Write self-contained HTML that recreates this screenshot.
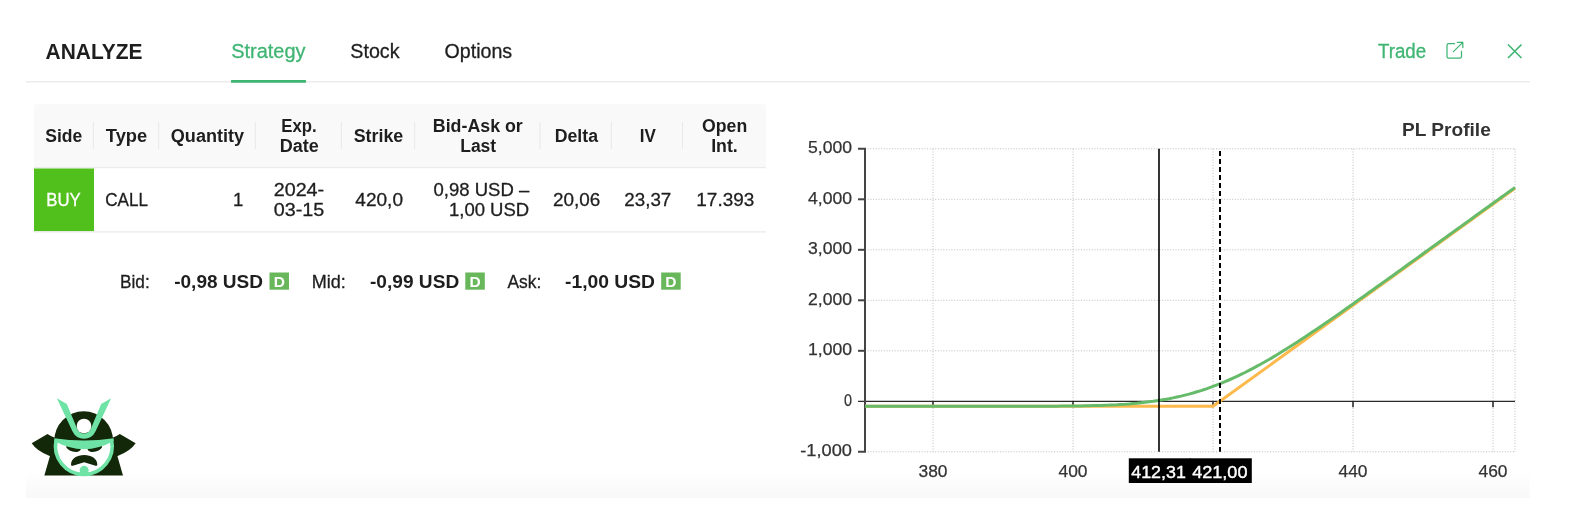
<!DOCTYPE html>
<html><head><meta charset="utf-8"><title>Analyze</title>
<style>
html,body{margin:0;padding:0;background:#fff;width:1578px;height:522px;overflow:hidden;}
svg{display:block;will-change:transform;font-family:"Liberation Sans",sans-serif;}
</style></head><body>
<svg width="1578" height="522" viewBox="0 0 1578 522">
<defs><linearGradient id="bg" x1="0" y1="0" x2="0" y2="1"><stop offset="0" stop-color="#fff"/><stop offset="1" stop-color="#f8f8f8"/></linearGradient></defs>
<rect x="26" y="472.5" width="1504" height="25.5" fill="url(#bg)"/>
<text x="45.5" y="58.7" font-size="22.8" font-weight="bold" fill="#1e1e1e" textLength="97" lengthAdjust="spacingAndGlyphs">ANALYZE</text>
<text x="231.2" y="58.3" font-size="20.5" fill="#3fb573" stroke="#3fb573" stroke-width="0.3" textLength="74.3" lengthAdjust="spacingAndGlyphs">Strategy</text>
<text x="350.3" y="58.3" font-size="20.5" fill="#1e1e1e" stroke="#1e1e1e" stroke-width="0.3" textLength="49.2" lengthAdjust="spacingAndGlyphs">Stock</text>
<text x="444.5" y="58.3" font-size="20.5" fill="#1e1e1e" stroke="#1e1e1e" stroke-width="0.3" textLength="67.7" lengthAdjust="spacingAndGlyphs">Options</text>
<text x="1378" y="57.8" font-size="20" fill="#3fb573" stroke="#3fb573" stroke-width="0.3" textLength="48.2" lengthAdjust="spacingAndGlyphs">Trade</text>
<rect x="26" y="81" width="1504" height="1.5" fill="#ececec"/>
<rect x="231" y="80" width="75" height="2.8" rx="0.6" fill="#3fb573"/>
<g fill="none" stroke="#3fb573" stroke-width="1.25" stroke-linecap="round" stroke-linejoin="round"><path d="M1454.5 43.7 H1448.7 Q1447 43.7 1447 45.4 V56.5 Q1447 58.2 1448.7 58.2 H1459.8 Q1461.5 58.2 1461.5 56.5 V51.3"/><path d="M1453.4 51.6 L1462.8 42.4 M1457.4 42.4 H1462.8 V47.6"/></g>
<path d="M1508 44.5 L1521.5 58 M1521.5 44.5 L1508 58" stroke="#3fb573" stroke-width="1.6" fill="none"/>
<path d="M34 168 V108 Q34 104 38 104 H762 Q766 104 766 108 V168 Z" fill="#f9f9f9"/>
<rect x="34" y="167" width="732" height="1.2" fill="#ebebeb"/>
<rect x="92.8" y="122" width="1" height="27" fill="#e8e8e8"/>
<rect x="158.2" y="122" width="1" height="27" fill="#e8e8e8"/>
<rect x="254.8" y="122" width="1" height="27" fill="#e8e8e8"/>
<rect x="340.8" y="122" width="1" height="27" fill="#e8e8e8"/>
<rect x="414.2" y="122" width="1" height="27" fill="#e8e8e8"/>
<rect x="539.5" y="122" width="1" height="27" fill="#e8e8e8"/>
<rect x="610.8" y="122" width="1" height="27" fill="#e8e8e8"/>
<rect x="682.0" y="122" width="1" height="27" fill="#e8e8e8"/>
<text x="45.3" y="142" font-size="18" font-weight="bold" fill="#1e1e1e" textLength="37" lengthAdjust="spacingAndGlyphs">Side</text>
<text x="105.8" y="142" font-size="18" font-weight="bold" fill="#1e1e1e" textLength="41.4" lengthAdjust="spacingAndGlyphs">Type</text>
<text x="170.8" y="142" font-size="18" font-weight="bold" fill="#1e1e1e" textLength="73.4" lengthAdjust="spacingAndGlyphs">Quantity</text>
<text x="281.3" y="131.7" font-size="18" font-weight="bold" fill="#1e1e1e" textLength="35.4" lengthAdjust="spacingAndGlyphs">Exp.</text>
<text x="279.7" y="152" font-size="18" font-weight="bold" fill="#1e1e1e" textLength="39" lengthAdjust="spacingAndGlyphs">Date</text>
<text x="353.7" y="142" font-size="18" font-weight="bold" fill="#1e1e1e" textLength="49.6" lengthAdjust="spacingAndGlyphs">Strike</text>
<text x="432.8" y="131.7" font-size="18" font-weight="bold" fill="#1e1e1e" textLength="90" lengthAdjust="spacingAndGlyphs">Bid-Ask or</text>
<text x="460.2" y="152" font-size="18" font-weight="bold" fill="#1e1e1e" textLength="36" lengthAdjust="spacingAndGlyphs">Last</text>
<text x="554.7" y="142" font-size="18" font-weight="bold" fill="#1e1e1e" textLength="43.3" lengthAdjust="spacingAndGlyphs">Delta</text>
<text x="639.7" y="142" font-size="18" font-weight="bold" fill="#1e1e1e" textLength="16.1" lengthAdjust="spacingAndGlyphs">IV</text>
<text x="702" y="131.7" font-size="18" font-weight="bold" fill="#1e1e1e" textLength="45.2" lengthAdjust="spacingAndGlyphs">Open</text>
<text x="711.2" y="152" font-size="18" font-weight="bold" fill="#1e1e1e" textLength="26.6" lengthAdjust="spacingAndGlyphs">Int.</text>
<rect x="34" y="168.5" width="60" height="62.7" fill="#52c01c"/>
<rect x="34" y="231.3" width="732" height="1.2" fill="#e9e9e9"/>
<text x="46.3" y="205.8" font-size="18.5" fill="#fff" stroke="#fff" stroke-width="0.3" textLength="34.5" lengthAdjust="spacingAndGlyphs">BUY</text>
<text x="105.3" y="205.8" font-size="18.5" fill="#1e1e1e" stroke="#1e1e1e" stroke-width="0.3" textLength="42.7" lengthAdjust="spacingAndGlyphs">CALL</text>
<text x="243.3" y="205.8" font-size="18.5" fill="#1e1e1e" stroke="#1e1e1e" stroke-width="0.3" text-anchor="end">1</text>
<text x="273.7" y="195.8" font-size="18.5" fill="#1e1e1e" stroke="#1e1e1e" stroke-width="0.3" textLength="50.5" lengthAdjust="spacingAndGlyphs">2024-</text>
<text x="273.7" y="216.2" font-size="18.5" fill="#1e1e1e" stroke="#1e1e1e" stroke-width="0.3" textLength="50.5" lengthAdjust="spacingAndGlyphs">03-15</text>
<text x="355.3" y="205.8" font-size="18.5" fill="#1e1e1e" stroke="#1e1e1e" stroke-width="0.3" textLength="47.7" lengthAdjust="spacingAndGlyphs">420,0</text>
<text x="529.2" y="195.8" font-size="18.5" fill="#1e1e1e" stroke="#1e1e1e" stroke-width="0.3" text-anchor="end">0,98 USD –</text>
<text x="529.2" y="216.2" font-size="18.5" fill="#1e1e1e" stroke="#1e1e1e" stroke-width="0.3" text-anchor="end">1,00 USD</text>
<text x="553" y="205.8" font-size="18.5" fill="#1e1e1e" stroke="#1e1e1e" stroke-width="0.3" textLength="47.3" lengthAdjust="spacingAndGlyphs">20,06</text>
<text x="624.3" y="205.8" font-size="18.5" fill="#1e1e1e" stroke="#1e1e1e" stroke-width="0.3" textLength="47" lengthAdjust="spacingAndGlyphs">23,37</text>
<text x="696.3" y="205.8" font-size="18.5" fill="#1e1e1e" stroke="#1e1e1e" stroke-width="0.3" textLength="58" lengthAdjust="spacingAndGlyphs">17.393</text>
<text x="120" y="287.5" font-size="18.5" fill="#1e1e1e" stroke="#1e1e1e" stroke-width="0.3" textLength="29.7" lengthAdjust="spacingAndGlyphs">Bid:</text>
<text x="174.2" y="287.5" font-size="18.5" font-weight="bold" fill="#1e1e1e" textLength="88.8" lengthAdjust="spacingAndGlyphs">-0,98 USD</text>
<text x="311.7" y="287.5" font-size="18.5" fill="#1e1e1e" stroke="#1e1e1e" stroke-width="0.3" textLength="34.1" lengthAdjust="spacingAndGlyphs">Mid:</text>
<text x="370" y="287.5" font-size="18.5" font-weight="bold" fill="#1e1e1e" textLength="89.2" lengthAdjust="spacingAndGlyphs">-0,99 USD</text>
<text x="507.5" y="287.5" font-size="18.5" fill="#1e1e1e" stroke="#1e1e1e" stroke-width="0.3" textLength="33.8" lengthAdjust="spacingAndGlyphs">Ask:</text>
<text x="565" y="287.5" font-size="18.5" font-weight="bold" fill="#1e1e1e" textLength="90" lengthAdjust="spacingAndGlyphs">-1,00 USD</text>
<rect x="269.5" y="272.5" width="19.5" height="17.2" fill="#68b75b"/>
<text x="279.25" y="287.4" font-size="15.5" font-weight="bold" fill="#fff" text-anchor="middle">D</text>
<rect x="465.3" y="272.5" width="19.5" height="17.2" fill="#68b75b"/>
<text x="475.05" y="287.4" font-size="15.5" font-weight="bold" fill="#fff" text-anchor="middle">D</text>
<rect x="661.2" y="272.5" width="19.5" height="17.2" fill="#68b75b"/>
<text x="670.95" y="287.4" font-size="15.5" font-weight="bold" fill="#fff" text-anchor="middle">D</text>
<g fill="none" stroke="#bdbdbd" stroke-width="1" stroke-dasharray="1 1.7">
<path d="M865.0 451.8 H1515.0"/>
<path d="M865.0 350.8 H1515.0"/>
<path d="M865.0 300.3 H1515.0"/>
<path d="M865.0 249.8 H1515.0"/>
<path d="M865.0 199.3 H1515.0"/>
<path d="M865.0 148.8 H1515.0"/>
<path d="M933.0 148.8 V451.8"/>
<path d="M1073.0 148.8 V451.8"/>
<path d="M1213.0 148.8 V451.8"/>
<path d="M1353.0 148.8 V451.8"/>
<path d="M1493.0 148.8 V451.8"/>
<path d="M1515.0 148.8 V451.8"/>
</g>
<path d="M858 401.3 H1515.0" stroke="#2a2a2a" stroke-width="1.3"/>
<path d="M933.0 401.3 V407.3" stroke="#222" stroke-width="1.5"/>
<path d="M1073.0 401.3 V407.3" stroke="#222" stroke-width="1.5"/>
<path d="M1213.0 401.3 V407.3" stroke="#222" stroke-width="1.5"/>
<path d="M1353.0 401.3 V407.3" stroke="#222" stroke-width="1.5"/>
<path d="M1493.0 401.3 V407.3" stroke="#222" stroke-width="1.5"/>
<path d="M858 148.8 H865 V451.8 H858" fill="none" stroke="#444" stroke-width="2"/>
<path d="M858 350.8 H865" stroke="#444" stroke-width="2"/>
<path d="M858 300.3 H865" stroke="#444" stroke-width="2"/>
<path d="M858 249.8 H865" stroke="#444" stroke-width="2"/>
<path d="M858 199.3 H865" stroke="#444" stroke-width="2"/>
<text x="808" y="153.4" font-size="16.5" fill="#333" stroke="#333" stroke-width="0.25" textLength="44" lengthAdjust="spacingAndGlyphs">5,000</text>
<text x="808" y="203.9" font-size="16.5" fill="#333" stroke="#333" stroke-width="0.25" textLength="44" lengthAdjust="spacingAndGlyphs">4,000</text>
<text x="808" y="254.4" font-size="16.5" fill="#333" stroke="#333" stroke-width="0.25" textLength="44" lengthAdjust="spacingAndGlyphs">3,000</text>
<text x="808" y="304.9" font-size="16.5" fill="#333" stroke="#333" stroke-width="0.25" textLength="44" lengthAdjust="spacingAndGlyphs">2,000</text>
<text x="808" y="355.4" font-size="16.5" fill="#333" stroke="#333" stroke-width="0.25" textLength="44" lengthAdjust="spacingAndGlyphs">1,000</text>
<text x="844" y="405.9" font-size="16.5" fill="#333" stroke="#333" stroke-width="0.25" textLength="8" lengthAdjust="spacingAndGlyphs">0</text>
<text x="800.3" y="456.4" font-size="16.5" fill="#333" stroke="#333" stroke-width="0.25" textLength="51.7" lengthAdjust="spacingAndGlyphs">-1,000</text>
<text x="918.5" y="476.7" font-size="16.5" fill="#333" stroke="#333" stroke-width="0.25" textLength="29" lengthAdjust="spacingAndGlyphs">380</text>
<text x="1058.5" y="476.7" font-size="16.5" fill="#333" stroke="#333" stroke-width="0.25" textLength="29" lengthAdjust="spacingAndGlyphs">400</text>
<text x="1338.5" y="476.7" font-size="16.5" fill="#333" stroke="#333" stroke-width="0.25" textLength="29" lengthAdjust="spacingAndGlyphs">440</text>
<text x="1478.5" y="476.7" font-size="16.5" fill="#333" stroke="#333" stroke-width="0.25" textLength="29" lengthAdjust="spacingAndGlyphs">460</text>
<text x="1490.8" y="136.2" font-size="19" font-weight="bold" fill="#333" textLength="88.8" lengthAdjust="spacingAndGlyphs" text-anchor="end">PL Profile</text>
<polyline points="865.0,406.3 1213.0,406.3 1515.0,188.4" fill="none" stroke="#fdb94b" stroke-width="3" stroke-linejoin="round"/>
<polyline points="865.0,406.3 869.0,406.3 873.0,406.3 877.0,406.3 881.0,406.3 885.0,406.3 889.0,406.3 893.0,406.3 897.0,406.3 901.0,406.3 905.0,406.3 909.0,406.3 913.0,406.3 917.0,406.3 921.0,406.3 925.0,406.3 929.0,406.3 933.0,406.3 937.0,406.3 941.0,406.3 945.0,406.3 949.0,406.3 953.0,406.3 957.0,406.3 961.0,406.3 965.0,406.3 969.0,406.3 973.0,406.3 977.0,406.3 981.0,406.3 985.0,406.3 989.0,406.3 993.0,406.3 997.0,406.3 1001.0,406.3 1005.0,406.3 1009.0,406.3 1013.0,406.3 1017.0,406.3 1021.0,406.3 1025.0,406.3 1029.0,406.3 1033.0,406.3 1037.0,406.2 1041.0,406.2 1045.0,406.2 1049.0,406.2 1053.0,406.2 1057.0,406.2 1061.0,406.1 1065.0,406.1 1069.0,406.1 1073.0,406.0 1077.0,405.9 1081.0,405.9 1085.0,405.8 1089.0,405.7 1093.0,405.6 1097.0,405.5 1101.0,405.4 1105.0,405.2 1109.0,405.1 1113.0,404.9 1117.0,404.7 1121.0,404.4 1125.0,404.2 1129.0,403.9 1133.0,403.5 1137.0,403.2 1141.0,402.8 1145.0,402.3 1149.0,401.8 1153.0,401.3 1157.0,400.7 1161.0,400.1 1165.0,399.4 1169.0,398.7 1173.0,397.9 1177.0,397.0 1181.0,396.1 1185.0,395.1 1189.0,394.1 1193.0,393.0 1197.0,391.8 1201.0,390.6 1205.0,389.3 1209.0,387.9 1213.0,386.4 1217.0,384.9 1221.0,383.3 1225.0,381.7 1229.0,380.0 1233.0,378.2 1237.0,376.3 1241.0,374.4 1245.0,372.5 1249.0,370.4 1253.0,368.3 1257.0,366.2 1261.0,364.0 1265.0,361.7 1269.0,359.5 1273.0,357.1 1277.0,354.7 1281.0,352.3 1285.0,349.8 1289.0,347.3 1293.0,344.8 1297.0,342.2 1301.0,339.6 1305.0,337.0 1309.0,334.3 1313.0,331.6 1317.0,328.9 1321.0,326.2 1325.0,323.5 1329.0,320.7 1333.0,317.9 1337.0,315.2 1341.0,312.4 1345.0,309.6 1349.0,306.7 1353.0,303.9 1357.0,301.1 1361.0,298.2 1365.0,295.4 1369.0,292.5 1373.0,289.7 1377.0,286.8 1381.0,284.0 1385.0,281.1 1389.0,278.2 1393.0,275.4 1397.0,272.5 1401.0,269.6 1405.0,266.7 1409.0,263.8 1413.0,261.0 1417.0,258.1 1421.0,255.2 1425.0,252.3 1429.0,249.4 1433.0,246.6 1437.0,243.7 1441.0,240.8 1445.0,237.9 1449.0,235.0 1453.0,232.1 1457.0,229.3 1461.0,226.4 1465.0,223.5 1469.0,220.6 1473.0,217.7 1477.0,214.8 1481.0,211.9 1485.0,209.1 1489.0,206.2 1493.0,203.3 1497.0,200.4 1501.0,197.5 1505.0,194.6 1509.0,191.7 1513.0,188.9 1515.0,187.4" fill="none" stroke="#66bb6a" stroke-width="3" stroke-linejoin="round"/>
<path d="M1159 148.8 V451.8" stroke="#000" stroke-width="1.6"/>
<path d="M1220 151 V451.8" stroke="#000" stroke-width="2" stroke-dasharray="5 3"/>
<rect x="1128.8" y="458.3" width="62" height="24.7" fill="#000"/>
<rect x="1189.8" y="458.3" width="62" height="24.7" fill="#000"/>
<text x="1131.3" y="478" font-size="16.5" fill="#fff" stroke="#fff" stroke-width="0.4" textLength="54.5" lengthAdjust="spacingAndGlyphs">412,31</text>
<text x="1192.2" y="478" font-size="16.5" fill="#fff" stroke="#fff" stroke-width="0.4" textLength="55.3" lengthAdjust="spacingAndGlyphs">421,00</text>
<g transform="translate(27 393) scale(0.16666666666666666)">
<path d="M28 302 L123 246 Q145 262 175 272 L175 400 L136 378 Q60 350 28 302 Z" fill="#132809"/>
<path d="M652 302 L557 246 Q535 262 505 272 L505 400 L544 378 Q620 350 652 302 Z" fill="#132809"/>
<path d="M140 370 L104 495 L576 495 L540 370 Z" fill="#132809"/>
<path d="M163 290 A177 180 0 0 1 517 290 Z" fill="#132809"/>
<path d="M172.6 295 A170 170 0 1 0 509.4 295 Z" fill="#fff"/>
<path d="M175 282 A170 170 0 1 0 507 282" fill="none" stroke="#6ee3a5" stroke-width="22"/>
<ellipse cx="279" cy="328" rx="45" ry="24" transform="rotate(15 279 328)" fill="#132809"/>
<ellipse cx="407" cy="328" rx="45" ry="24" transform="rotate(-15 407 328)" fill="#132809"/>
<path d="M164 271 Q342 300 520 271 L520 288 Q342 386 164 288 Z" fill="#6ee3a5"/>
<path d="M264 430 C264 394 300 372 343 372 C386 372 422 394 422 430 Q421 438 411 437 L343 415 L275 437 Q265 438 264 430 Z" fill="#132809"/>
<circle cx="343" cy="464" r="27" fill="#6ee3a5"/>
<path d="M179 31 L239 66 L301.5 216 A44 44 0 0 0 382.5 216 L445 66 L505 31 L410.6 231.7 A76 76 0 0 1 273.4 231.7 Z" fill="#6ee3a5"/>
<circle cx="342" cy="198" r="44" fill="#fff"/>
</g>
</svg>
</body></html>
